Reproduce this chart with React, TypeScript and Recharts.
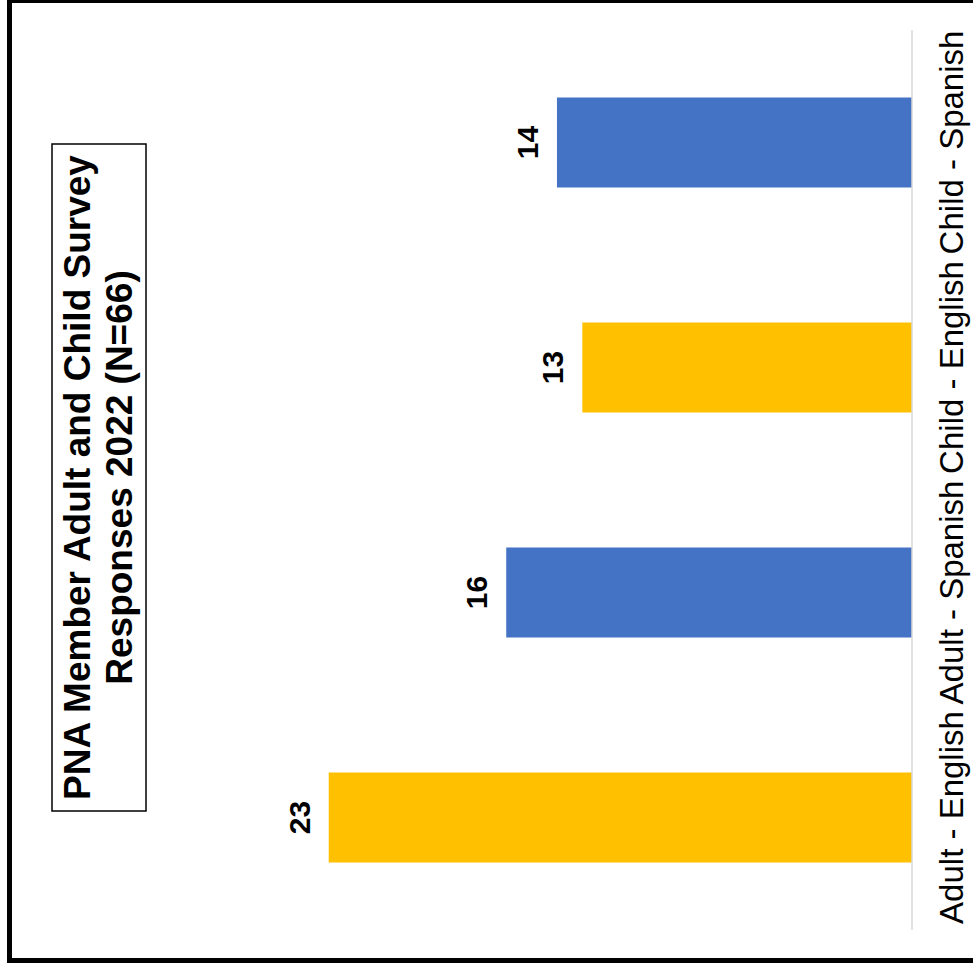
import React from "react";
import { BarChart, Bar, XAxis, YAxis, Cell, LabelList } from "recharts";

const categories = ["Adult - English", "Adult - Spanish", "Child - English", "Child - Spanish"];
const responses = [23, 16, 13, 14];
const barColors = ["#FFC000", "#4472C4", "#FFC000", "#4472C4"];
const titleLines = ["PNA Member Adult and Child Survey", "Responses 2022 (N=66)"];
const valueDomain = [0, 25];

const data = categories.map((name, i) => ({ name, value: responses[i] }));

const FONT = "'Liberation Sans', Arial, Helvetica, sans-serif";

const CategoryTick = (props: any) => {
  const { x, y, payload } = props;
  const px = x + 43;
  return (
    <text
      x={px}
      y={y}
      transform={`rotate(-90, ${px}, ${y})`}
      textAnchor="middle"
      fontFamily={FONT}
      fontSize={33}
      fill="#000"
    >
      {payload.value}
    </text>
  );
};

const ValueLabel = (props: any) => {
  const vb = props.viewBox && props.viewBox.width !== undefined ? props.viewBox : props;
  const x = Number(vb.x);
  const y = Number(vb.y);
  const w = Number(vb.width);
  const h = Number(vb.height);
  const left = Math.min(x, x + w);
  const cy = Math.min(y, y + h) + Math.abs(h) / 2;
  const px = left - 19;
  return (
    <text
      x={px}
      y={cy}
      transform={`rotate(-90, ${px}, ${cy})`}
      textAnchor="middle"
      fontFamily={FONT}
      fontWeight="bold"
      fontSize={30}
      fill="#000"
    >
      {props.value}
    </text>
  );
};

export default function App() {
  return (
    <div
      style={{
        position: "absolute",
        left: 0,
        top: 0,
        width: 973,
        height: 969,
        overflow: "hidden",
        background: "#fff",
      }}
    >
      <div
        style={{
          position: "absolute",
          left: 7,
          top: -2,
          width: 1000,
          height: 965,
          border: "5px solid #000",
          boxSizing: "border-box",
        }}
      />
      <div style={{ position: "absolute", left: 0, top: 0 }}>
        <BarChart
          width={973}
          height={969}
          data={data}
          layout="vertical"
          margin={{ top: 30, right: 0, bottom: 39, left: 278 }}
          barCategoryGap="30%"
        >
          <XAxis type="number" domain={valueDomain} reversed hide />
          <YAxis
            type="category"
            dataKey="name"
            orientation="right"
            reversed
            width={61}
            axisLine={{ stroke: "#D9D9D9", strokeWidth: 1.5 }}
            tickLine={false}
            tick={<CategoryTick />}
            interval={0}
          />
          <Bar dataKey="value" isAnimationActive={false}>
            {data.map((d, i) => (
              <Cell key={d.name} fill={barColors[i]} />
            ))}
            <LabelList dataKey="value" content={<ValueLabel />} />
          </Bar>
        </BarChart>
      </div>
      <svg
        width={973}
        height={969}
        style={{ position: "absolute", left: 0, top: 0, pointerEvents: "none" }}
      >
        <rect x={52} y={144} width={94} height={667} fill="#fff" stroke="#000" strokeWidth={1.5} />
        {titleLines.map((line, i) => {
          const px = 90 + i * 42;
          const py = 477.5;
          return (
            <text
              key={line}
              x={px}
              y={py}
              transform={`rotate(-90, ${px}, ${py})`}
              textAnchor="middle"
              fontFamily={FONT}
              fontWeight="bold"
              fontSize={37}
              fill="#000"
            >
              {line}
            </text>
          );
        })}
      </svg>
    </div>
  );
}
